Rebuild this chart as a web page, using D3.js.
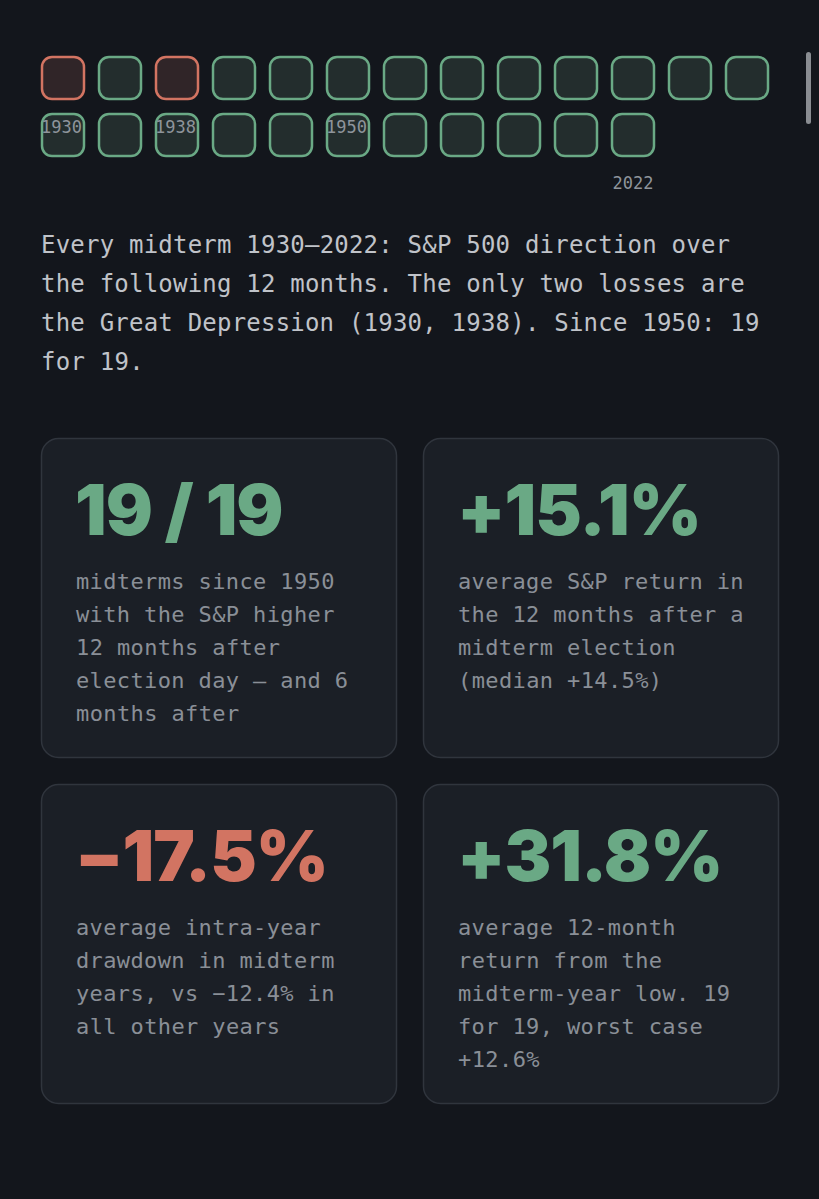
<!DOCTYPE html>
<html><head><meta charset="utf-8">
<script src="https://cdn.jsdelivr.net/npm/d3@7"></script>
<style>body{margin:0;background:#13161c}</style></head>
<body><svg id="chart" width="819" height="1199"></svg>
<script>
const green = "#6aa985", red = "#d27462";
// midterm years and S&P direction 12 months after
const years = d3.range(1930, 2023, 4);
const losses = [1930, 1938];
const labels = { 1930: 1, 1938: 1, 1950: 1, 2022: 1 };

const cards = [
  { big: "19 / 19", color: green, lines: ["midterms since 1950", "with the S&P higher", "12 months after", "election day — and 6", "months after"] },
  { big: "+15.1%", color: green, lines: ["average S&P return in", "the 12 months after a", "midterm election", "(median +14.5%)"] },
  { big: "−17.5%", color: red, lines: ["average intra-year", "drawdown in midterm", "years, vs −12.4% in", "all other years"] },
  { big: "+31.8%", color: green, lines: ["average 12-month", "return from the", "midterm-year low. 19", "for 19, worst case", "+12.6%"] }
];

const svg = d3.select("#chart");
svg.append("rect").attr("width", 819).attr("height", 1199).attr("fill", "#13161c");
svg.append("rect").attr("x", 806).attr("y", 52).attr("width", 5).attr("height", 72).attr("rx", 2.5).attr("fill", "#8a8d92");

const perRow = 13;
const x = d3.scaleLinear().domain([0, perRow - 1]).range([41, 41 + 57 * 12]);
const y = d3.scaleLinear().domain([0, 1]).range([56, 113]);
const mono = "'DejaVu Sans Mono', monospace";

const cell = svg.selectAll(".cell").data(years).enter().append("g")
  .attr("transform", (d, i) => `translate(${x(i % perRow)},${y(Math.floor(i / perRow))})`);
cell.append("rect").attr("x", 1).attr("y", 1).attr("width", 42).attr("height", 42).attr("rx", 10)
  .attr("fill", d => losses.includes(d) ? "#302528" : "#232d2d")
  .attr("stroke", d => losses.includes(d) ? red : green).attr("stroke-width", 2.5);

// year labels (they wrap onto the second row in the original)
years.forEach((d, i) => {
  if (!labels[d]) return;
  const lx = d === 2022 ? x(i % perRow) : x(i);
  const ly = d === 2022 ? 189 : 133;
  svg.append("text").attr("x", d === 2022 ? lx + 22 : lx).attr("y", ly)
    .attr("text-anchor", d === 2022 ? "middle" : "start")
    .attr("font-family", mono).attr("font-size", 17).attr("fill", "#8e949b").text(d);
});

const intro = ["Every midterm 1930–2022: S&P 500 direction over",
  "the following 12 months. The only two losses are",
  "the Great Depression (1930, 1938). Since 1950: 19",
  "for 19."];
svg.selectAll(".intro").data(intro).enter().append("text")
  .attr("x", 41).attr("y", (d, i) => 253 + i * 39)
  .attr("font-family", mono).attr("font-size", 24).attr("fill", "#c0c3c9")
  .attr("textLength", d => d.length * 14.66).text(d => d);

const card = svg.selectAll(".card").data(cards).enter().append("g")
  .attr("transform", (d, i) => `translate(${i % 2 ? 423 : 41},${i < 2 ? 438 : 784})`);
card.append("rect").attr("x", 0.5).attr("y", 0.5).attr("width", 355).attr("height", 319).attr("rx", 17)
  .attr("fill", "#1b1f26").attr("stroke", "#30353d").attr("stroke-width", 1.5);
card.append("text").attr("x", 34).attr("y", 97)
  .attr("font-family", "Inter, sans-serif").attr("font-weight", 900).attr("font-size", 70)
  .attr("letter-spacing", -1).attr("fill", d => d.color).text(d => d.big);
card.each(function (d) {
  d3.select(this).selectAll(".line").data(d.lines).enter().append("text")
    .attr("x", 35).attr("y", (l, j) => 151 + j * 33)
    .attr("font-family", mono).attr("font-size", 22).attr("fill", "#8a8f97")
    .attr("textLength", l => l.length * 13.6).text(l => l);
});
</script></body></html>
